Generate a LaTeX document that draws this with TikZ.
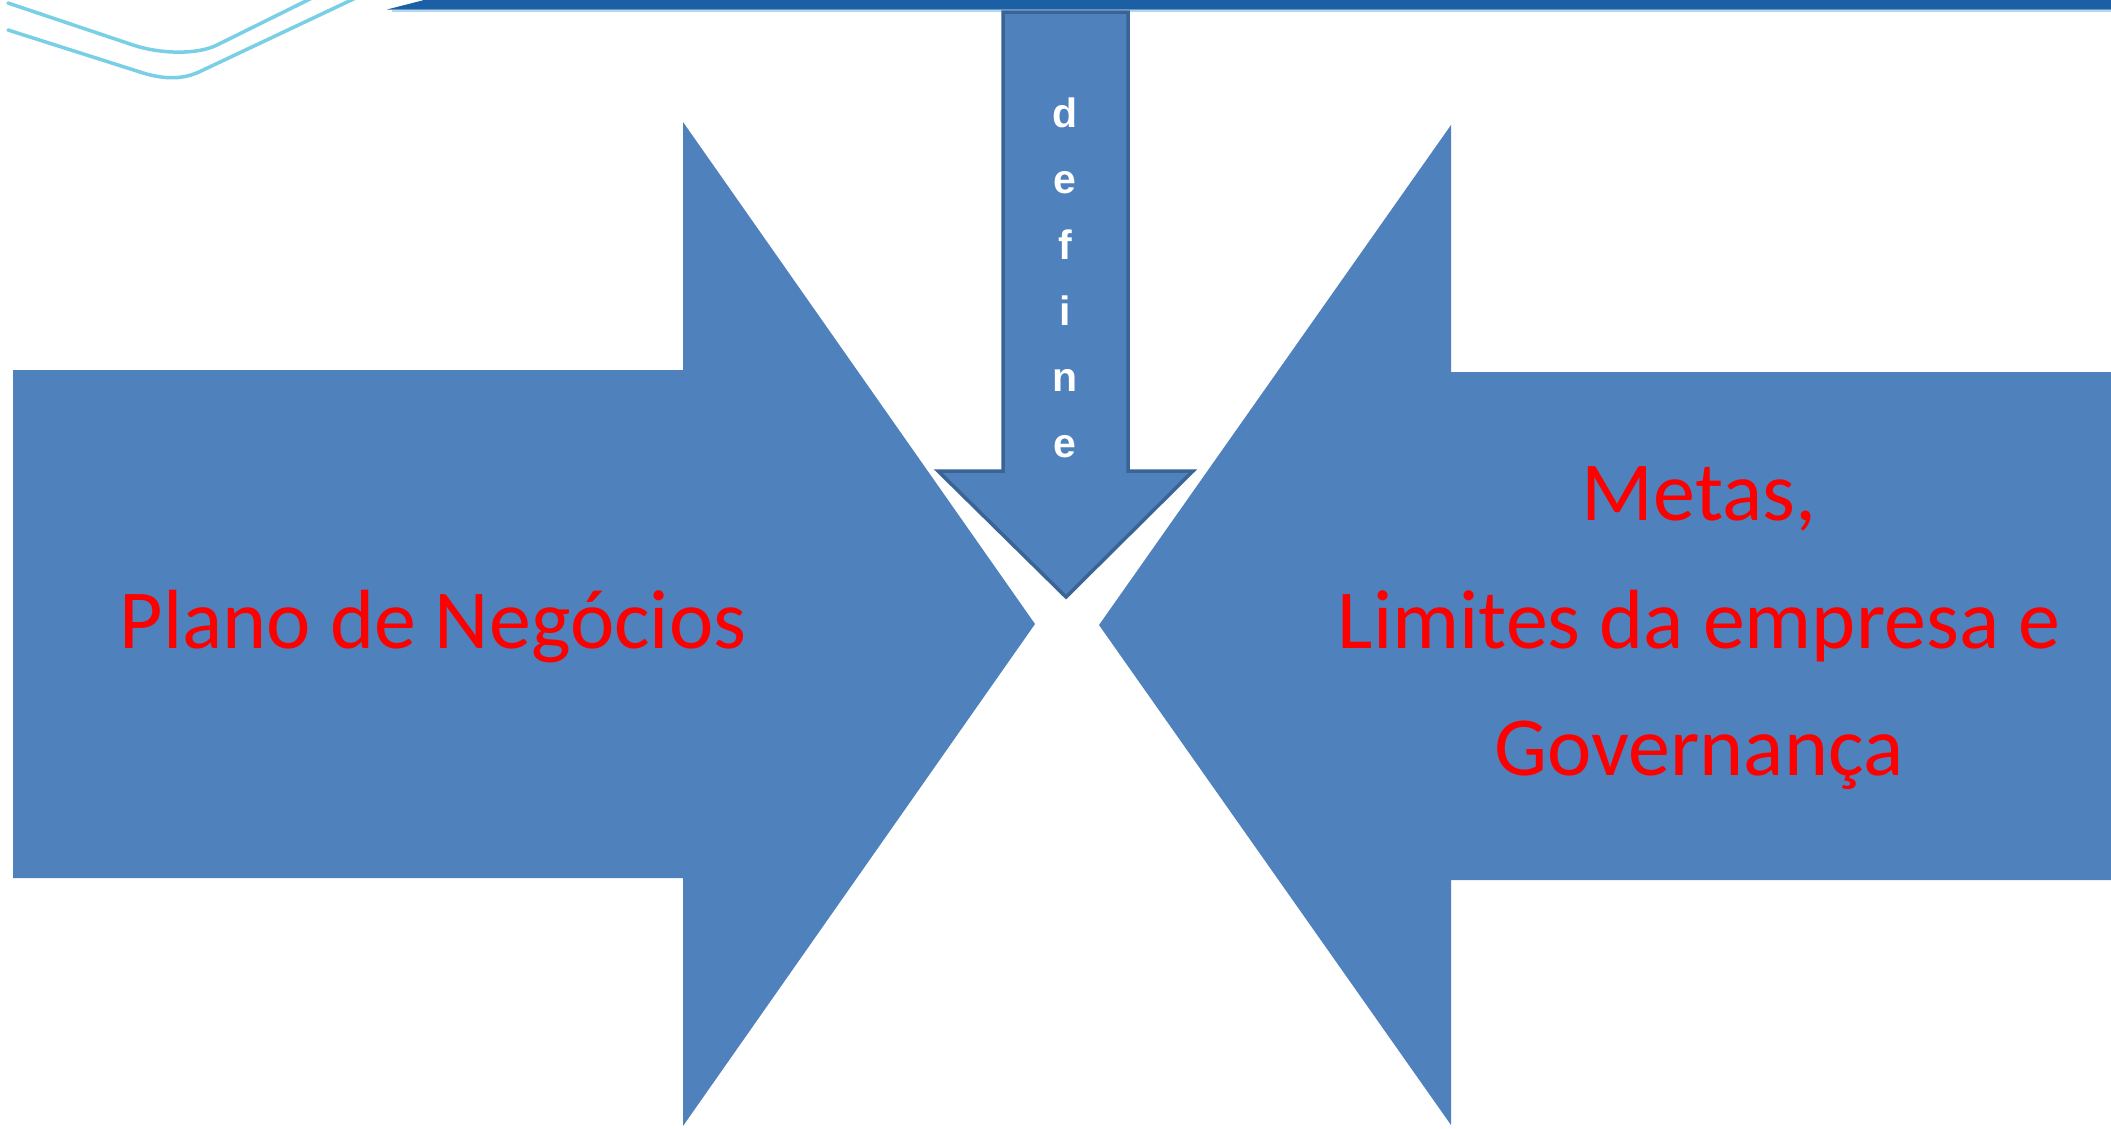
\documentclass[tikz,border=0pt]{standalone}
\usepackage{fontspec}
\newfontfamily\carlito{Carlito}
\newfontfamily\lsans{Liberation Sans}
\definecolor{arrowblue}{HTML}{4F81BD}
\definecolor{arrowedge}{HTML}{3A6495}
\definecolor{bandblue}{HTML}{1B5FA5}
\definecolor{bandlight}{HTML}{B5D6F0}
\definecolor{cyanline}{HTML}{78CFE6}
\definecolor{redtext}{HTML}{FF0000}
\tikzset{
  bigarrow/.style={fill=arrowblue, draw=none},
  downarrow/.style={fill=arrowblue, draw=arrowedge, line width=3.5pt, line join=miter},
  redlabel/.style={text=redtext, font=\carlito\fontsize{84}{127}\selectfont, inner sep=0pt, anchor=base},
  letter/.style={text=white, font=\lsans\bfseries\fontsize{41}{44}\selectfont, inner sep=0pt, anchor=base},
  deco/.style={draw=cyanline, line width=3.5pt, line cap=round}
}
\begin{document}
\begin{tikzpicture}[x=1pt,y=-1pt]
\useasboundingbox (0,0) rectangle (2111,1128);
\fill[white] (0,0) rectangle (2111,1128);
% top band
\fill[bandblue] (432,-2) -- (2115,-2) -- (2115,9.5) -- (387,9.5) -- cycle;
\draw[bandlight, line width=1.5pt] (392,11) -- (2111,11);
% decorative cyan lines
\draw[deco] (8,3) -- (133,45) .. controls (160,54) and (197,55) .. (217,45) -- (312,-2);
\draw[deco] (8,30) -- (140,72) .. controls (160,78.4) and (180,81) .. (200,71.5) -- (362,-5);
% left big arrow
\fill[bigarrow] (13,370) -- (683,370) -- (683,122) -- (1035,624) -- (683,1126) -- (683,878) -- (13,878) -- cycle;
% right big arrow
\fill[bigarrow] (2115,372) -- (1451,372) -- (1451,125) -- (1099,625) -- (1451,1125) -- (1451,880) -- (2115,880) -- cycle;
% down arrow
\draw[downarrow] (1003,12) -- (1128,12) -- (1128,471) -- (1193,471) -- (1066,597) -- (938,471) -- (1003,471) -- cycle;
% letters
\node[letter] (l1) at (1065,127) {d};
\node[letter] (l2) at (1065,193) {e};
\node[letter] (l3) at (1065,259) {f};
\node[letter] (l4) at (1065,325) {i};
\node[letter] (l5) at (1065,391) {n};
\node[letter] (l6) at (1065,457) {e};
% texts
\node[redlabel] (plano) at (433,648) {Plano de Negócios};
\node[redlabel] (metas) at (1699,520) {Metas,};
\node[redlabel] (limites) at (1699,648) {Limites da empresa e};
\node[redlabel] (gov) at (1699,775) {Governança};
\end{tikzpicture}
\end{document}
